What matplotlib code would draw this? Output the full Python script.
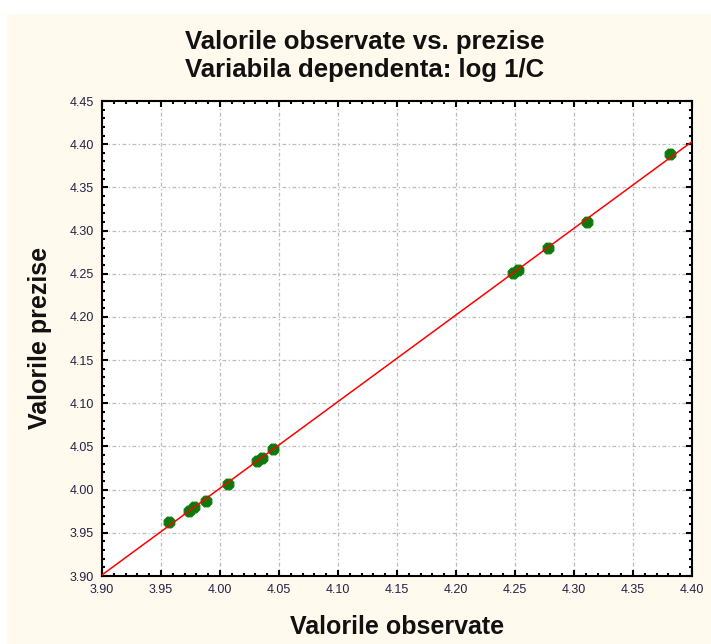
import numpy as np
import matplotlib
matplotlib.use("Agg")
import matplotlib.pyplot as plt
from matplotlib.patches import Rectangle
from matplotlib.ticker import MultipleLocator, FormatStrFormatter
from matplotlib import font_manager

# ---- data ----
observed = [3.9566, 3.9739, 3.9777, 3.9882, 4.0070, 4.0310, 4.0360, 4.0450,
            4.2480, 4.2528, 4.2781, 4.3112, 4.3816]
predicted = [3.9625, 3.9758, 3.9795, 3.9870, 4.0071, 4.0329, 4.0369, 4.0468,
             4.2512, 4.2546, 4.2797, 4.3104, 4.3885]
x_ticks = [3.90, 3.95, 4.00, 4.05, 4.10, 4.15, 4.20, 4.25, 4.30, 4.35, 4.40]
y_ticks = [3.90, 3.95, 4.00, 4.05, 4.10, 4.15, 4.20, 4.25, 4.30, 4.35, 4.40, 4.45]
title_lines = ["Valorile observate vs. prezise", "Variabila dependenta: log 1/C"]
xlabel = "Valorile observate"
ylabel = "Valorile prezise"

names = {f.name for f in font_manager.fontManager.ttflist}
narrow = "Liberation Sans Narrow" if "Liberation Sans Narrow" in names else "Liberation Sans"

cream = "#FFF9EE"
fig = plt.figure(figsize=(7.11, 6.44), dpi=100, facecolor="white")
fig.patches.append(Rectangle((7 / 711, 0), 1, 1 - 14 / 644, transform=fig.transFigure,
                             facecolor=cream, edgecolor="none", zorder=-10))

ax = fig.add_axes([102 / 711, 1 - 576 / 644, 590 / 711, 475 / 644])
ax.set_facecolor("white")

ax.scatter(observed, predicted, s=70, marker="8", color="#0B7A0B", zorder=3,
           edgecolors="#0B7A0B", linewidths=0.8)
coef = np.polyfit(observed, predicted, 1)
xl = np.array([x_ticks[0], x_ticks[-1]])
ax.plot(xl, np.polyval(coef, xl), color="#FF0000", lw=1.1, zorder=4)

ax.set_xlim(x_ticks[0], x_ticks[-1])
ax.set_ylim(y_ticks[0], y_ticks[-1])
ax.set_xticks(x_ticks)
ax.set_yticks(y_ticks)
ax.xaxis.set_major_formatter(FormatStrFormatter("%.2f"))
ax.yaxis.set_major_formatter(FormatStrFormatter("%.2f"))
ax.xaxis.set_minor_locator(MultipleLocator(0.01))
ax.yaxis.set_minor_locator(MultipleLocator(0.01))
ax.tick_params(which="both", direction="in", top=True, right=True, color="black")
ax.tick_params(which="major", length=4, width=1.5, labelsize=9, labelcolor="#222244", pad=6)
ax.tick_params(which="minor", length=2.5, width=1.5)
for lab in ax.get_xticklabels() + ax.get_yticklabels():
    lab.set_family("Liberation Sans")

ax.grid(True, which="major", color="#BBBBBB", lw=0.9, linestyle=(0, (3, 2, 1, 2)))
ax.set_axisbelow(True)
for s in ax.spines.values():
    s.set_linewidth(1.5)
    s.set_color("black")

fig.text(0.513, 1 - 42 / 644, title_lines[0], ha="center", va="center",
         fontsize=18.5, fontweight="bold", family=narrow, color="#111111")
fig.text(0.513, 1 - 70 / 644, title_lines[1], ha="center", va="center",
         fontsize=18.5, fontweight="bold", family=narrow, color="#111111")

fig.text(397 / 711, 1 - 627 / 644, xlabel, ha="center", va="center",
         fontsize=18, fontweight="bold", family="Liberation Sans", color="#111111")
fig.text(40 / 711, 1 - 338 / 644, ylabel, ha="center", va="center", rotation=90,
         fontsize=18, fontweight="bold", family="Liberation Sans", color="#111111")

fig.savefig("out.png", dpi=100, facecolor=fig.get_facecolor())
